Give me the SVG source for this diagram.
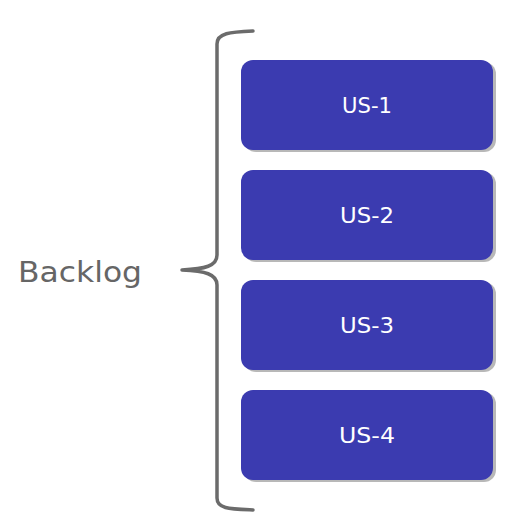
<svg xmlns="http://www.w3.org/2000/svg" width="532" height="524" viewBox="0 0 532 524">
<defs>
<style>
.box{fill:#3b3bb0}
.sh{fill:#9a9a9a;opacity:0.7}
.lbl{font-family:"DejaVu Sans","Liberation Sans",sans-serif;font-size:22px;fill:#ffffff;text-anchor:middle}
.brace{fill:none;stroke:#6b6b6b;stroke-width:3.5;stroke-linecap:round;stroke-linejoin:round}
</style>
</defs>
<rect width="532" height="524" fill="#ffffff"/>
<g id="connectors">
<path class="brace" d="M253,31 C230,32 217,33 217,44 L217,255 C217,266 205,269 182,270 C205,271 217,274 217,285 L217,498 C217,509 230,509 253,510"/>
</g>
<g id="backlog">
<text x="18" y="282" font-family="'DejaVu Sans','Liberation Sans',sans-serif" font-size="28" fill="#666666" textLength="124" lengthAdjust="spacingAndGlyphs">Backlog</text>
</g>
<g id="us1">
<rect class="sh" x="244" y="62" width="252" height="90" rx="12"/>
<rect class="box" x="241" y="60" width="252" height="90" rx="12"/>
<text class="lbl" x="367" y="113" textLength="50" lengthAdjust="spacingAndGlyphs">US-1</text>
</g>
<g id="us2">
<rect class="sh" x="244" y="172" width="252" height="90" rx="12"/>
<rect class="box" x="241" y="170" width="252" height="90" rx="12"/>
<text class="lbl" x="367" y="223" textLength="54" lengthAdjust="spacingAndGlyphs">US-2</text>
</g>
<g id="us3">
<rect class="sh" x="244" y="282" width="252" height="90" rx="12"/>
<rect class="box" x="241" y="280" width="252" height="90" rx="12"/>
<text class="lbl" x="367" y="333" textLength="54" lengthAdjust="spacingAndGlyphs">US-3</text>
</g>
<g id="us4">
<rect class="sh" x="244" y="392" width="252" height="90" rx="12"/>
<rect class="box" x="241" y="390" width="252" height="90" rx="12"/>
<text class="lbl" x="367" y="443" textLength="56" lengthAdjust="spacingAndGlyphs">US-4</text>
</g>
</svg>
